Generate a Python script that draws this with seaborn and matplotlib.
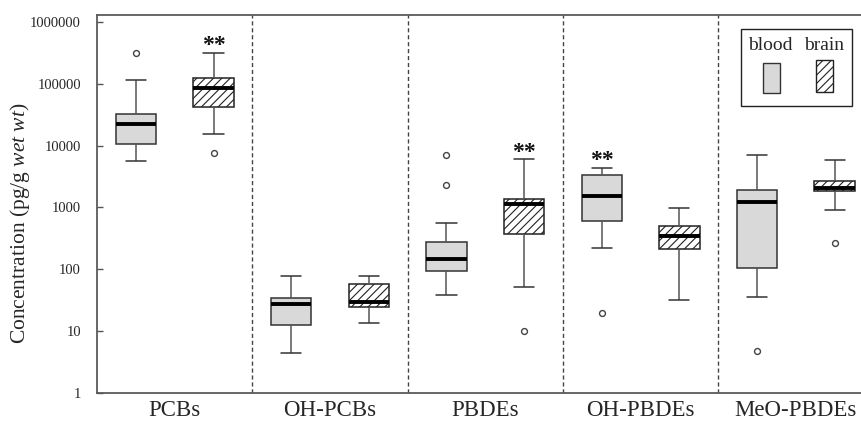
import numpy as np
import pandas as pd
import seaborn as sns
import matplotlib.pyplot as plt
from matplotlib.patches import Rectangle
from matplotlib.colors import to_hex

groups = ['PCBs', 'OH-PCBs', 'PBDEs', 'OH-PBDEs', 'MeO-PBDEs']
tissues = ['blood', 'brain']

# lower whisker, Q1, median, Q3, upper whisker (pg/g wet wt)
blood_stats = [
    [5600, 10500, 22000, 32000, 116000],
    [4.5, 12.5, 27, 35, 77],
    [38, 93, 148, 275, 570],
    [220, 600, 1560, 3400, 4400],
    [36, 107, 1220, 1900, 7100],
]
brain_stats = [
    [15500, 42000, 85000, 122000, 320000],
    [13.6, 25, 29.5, 57, 77],
    [52, 374, 1160, 1390, 6100],
    [31.6, 211, 347, 505, 980],
    [925, 1860, 2100, 2660, 5960],
]
blood_outliers = [[310000], [], [2300, 7000], [19.5], [4.8]]
brain_outliers = [[7600], [], [10.2], [], [270]]

# significance marks (**)
star_groups = ['PCBs', 'PBDEs', 'OH-PBDEs']
star_tissues = ['brain', 'brain', 'blood']

ytick_vals = [1, 10, 100, 1000, 10000, 100000, 1000000]

# long table for seaborn
rows = []
for tissue, stats in zip(tissues, [blood_stats, brain_stats]):
    for g, vals in zip(groups, stats):
        for v in vals:
            rows.append({'group': g, 'tissue': tissue, 'value': v})
df = pd.DataFrame(rows)

sns.set_style('white')
plt.rcParams['font.family'] = ['Liberation Serif', 'DejaVu Serif']
plt.rcParams['mathtext.fontset'] = 'custom'
plt.rcParams['mathtext.rm'] = 'Liberation Serif'
plt.rcParams['mathtext.it'] = 'Liberation Serif:italic'
plt.rcParams['hatch.linewidth'] = 0.8
plt.rcParams['hatch.color'] = '#222222'

fig = plt.figure(figsize=(8.61, 4.21), dpi=100)
ax = fig.add_axes([0.1127, 0.0665, 0.9018, 0.898])
ax.set_yscale('log')

sns.boxplot(data=df, x='group', y='value', hue='tissue', order=groups,
            hue_order=tissues, palette={'blood': '#d9d9d9', 'brain': 'white'},
            width=1.0, gap=0.48, whis=(0, 100), showfliers=False,
            linecolor='#333333', linewidth=1.1,
            medianprops=dict(color='black', linewidth=2.8),
            whiskerprops=dict(color='#555555'),
            legend=False, ax=ax)

# hatch the brain boxes
for p in ax.patches:
    if to_hex(p.get_facecolor()) == '#ffffff':
        p.set_hatch('////')
        p.set_edgecolor('#222222')

# outliers
offsets = {'blood': -0.25, 'brain': 0.25}
for tissue, outs in zip(tissues, [blood_outliers, brain_outliers]):
    for i, vals in enumerate(outs):
        if vals:
            ax.scatter([i + offsets[tissue]] * len(vals), vals, s=18,
                       facecolors='white', edgecolors='#444444',
                       linewidths=1.0, zorder=4)

# ** marks above the upper whisker
for g, t in zip(star_groups, star_tissues):
    i = groups.index(g)
    top = (blood_stats if t == 'blood' else brain_stats)[i][-1]
    ax.text(i + offsets[t], top * 1.05, '**', ha='center', va='baseline',
            fontsize=17, fontweight='bold', color='#111111')

# dashed separators
for i in range(len(groups) - 1):
    ax.axvline(i + 0.5, color='#444444', lw=1.0, ls=(0, (3, 2)), zorder=0)

ax.set_xlim(-0.5, 4.5)
ax.set_ylim(1, 1.3e6)
ax.set_yticks(ytick_vals)
ax.set_yticklabels([str(v) for v in ytick_vals])
ax.yaxis.set_minor_locator(plt.NullLocator())
ax.tick_params(axis='y', direction='in', length=4, width=1, color='#555555',
               pad=11.5, labelsize=10.5, left=True)
ax.tick_params(axis='x', length=0, pad=5, labelsize=16.5)
ax.set_xlabel('')
ax.set_ylabel('Concentration (pg/g $\\mathit{wet\\ wt}$)', fontsize=15.5,
              va='center')
ax.yaxis.set_label_coords(-0.099, 0.448)

for side in ['left', 'top', 'bottom']:
    ax.spines[side].set_color('#5a5a5a')
    ax.spines[side].set_linewidth(1.3)
ax.spines['right'].set_visible(False)

# legend box
fig.add_artist(Rectangle((0.8606, 0.7482), 0.129, 0.183, transform=fig.transFigure,
                         facecolor='white', edgecolor='#222222', lw=1.0))
fig.text(0.8949, 0.893, 'blood', ha='center', va='center', fontsize=14)
fig.text(0.9576, 0.893, 'brain', ha='center', va='center', fontsize=14)
fig.add_artist(Rectangle((0.8862, 0.779), 0.0197, 0.0713, transform=fig.transFigure,
                         facecolor='#d9d9d9', edgecolor='#333333', lw=1.0))
fig.add_artist(Rectangle((0.9477, 0.7815), 0.0197, 0.076, transform=fig.transFigure,
                         facecolor='white', edgecolor='#222222', lw=1.0, hatch='////'))

fig.savefig('out.png', dpi=100)
